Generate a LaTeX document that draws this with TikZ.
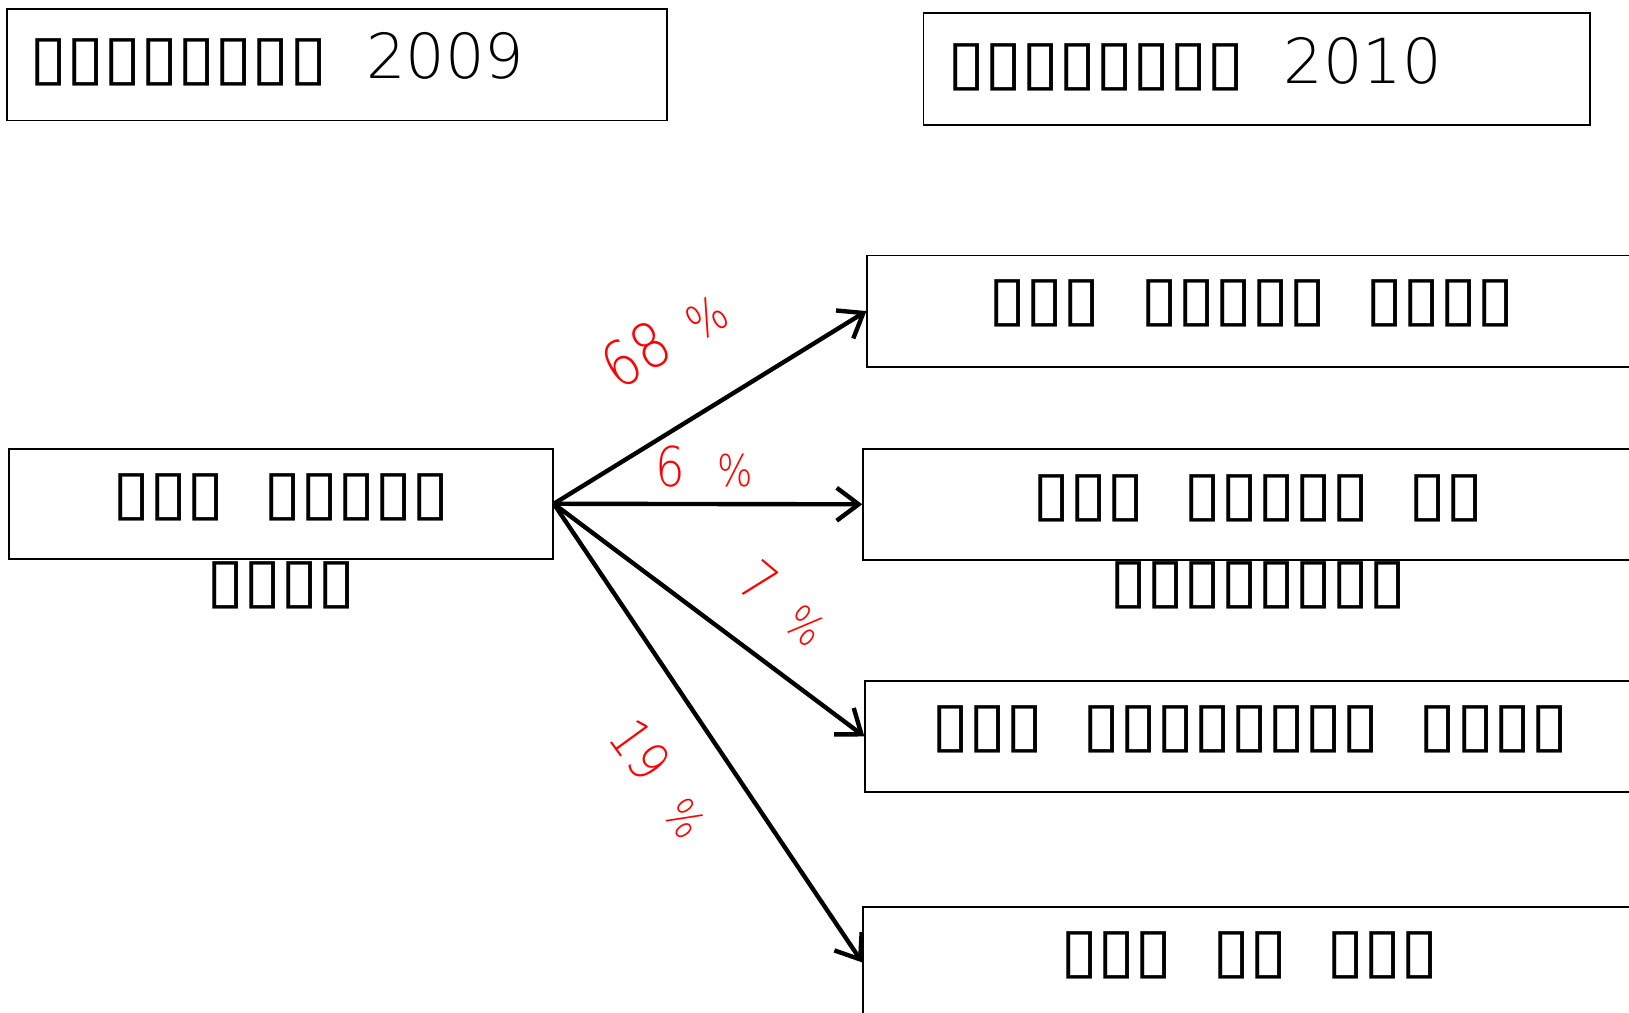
\documentclass[tikz,border=0pt]{standalone}
\usepackage{fontspec}
\setmainfont{DejaVu Sans}
\newfontfamily\tofufont{DejaVu Sans Bold}[FakeStretch=1.12, WordSpace=1.7, LetterSpace=-2]
\newfontfamily\thinfont{DejaVu Sans ExtraLight}[FakeStretch=0.85]
\newfontfamily\yearfont{DejaVu Sans ExtraLight}
\usetikzlibrary{arrows.meta}
\usetikzlibrary{calc}

\begin{document}
\begin{tikzpicture}[x=0.01cm, y=-0.01cm,
    >={Straight Barb[length=6pt, width=9pt]},
    frame/.style={draw, line width=0.5pt, inner sep=0pt, anchor=north west},
    box text/.style={font=\tofufont\fontsize{17pt}{24pt}\selectfont, align=center, inner sep=0pt},
    flow line/.style={line width=1.2pt, ->},
    share/.style={color=red, font=\thinfont, inner sep=0pt},
    ]

\useasboundingbox (0,0) rectangle (1568,975);

%% draw frames
\node[frame, minimum width=6.35cm, minimum height=1.07cm] (y09) at (6,8) {};
\node[frame, minimum width=6.41cm, minimum height=1.07cm] (y10) at (888,12) {};
\node[frame, minimum width=5.23cm, minimum height=1.06cm] (src) at (8,431) {};
\node[frame, minimum width=7.40cm, minimum height=1.07cm] (d1) at (834,245) {};
\node[frame, minimum width=7.60cm, minimum height=1.07cm] (d2) at (830,431) {};
\node[frame, minimum width=7.40cm, minimum height=1.06cm] (d3) at (832,655) {};
\node[frame, minimum width=7.44cm, minimum height=1.07cm] (d4) at (830,872) {};

%% frame texts
\node[box text, anchor=west] (t09) at ($(y09.west)+(22,-5)$) {▯▯▯▯▯▯▯▯ {\yearfont 2009}};
\node[box text, anchor=west] (t10) at ($(y10.west)+(23,-5)$) {▯▯▯▯▯▯▯▯ {\yearfont 2010}};
\node[box text, anchor=base] (tsrc) at ($(src.center)+(0,94)$) {▯▯▯ ▯▯▯▯▯\\▯▯▯▯};
\node[box text] (td1) at ($(d1.center)+(0,-7)$) {▯▯▯ ▯▯▯▯▯ ▯▯▯▯};
\node[box text, anchor=base] (td2) at ($(d2.center)+(0,94)$) {▯▯▯ ▯▯▯▯▯ ▯▯\\▯▯▯▯▯▯▯▯};
\node[box text] (td3) at ($(d3.center)+(0,-7)$) {▯▯▯ ▯▯▯▯▯▯▯▯ ▯▯▯▯};
\node[box text] (td4) at ($(d4.center)+(0,-7)$) {▯▯▯ ▯▯ ▯▯▯};

%% draw arrows
\draw[flow line] (src.east) -- (d1.west);
\draw[flow line] (src.east) -- (d2.west);
\draw[flow line] (src.east) -- (d3.west);
\draw[flow line] (src.east) -- (d4.west);

%% label shares
\node[share, rotate=31] (p1) at (639,325) {{\fontsize{17}{20}\selectfont 68}\hspace{7.5pt}{\fontsize{13}{16}\selectfont\%}};
\node[share] (p2) at (678,449) {{\fontsize{15}{18}\selectfont 6}\hspace{8.7pt}{\fontsize{12}{14}\selectfont\%}};
\node[share, rotate=-40] (p3) at (755,581) {{\fontsize{15}{18}\selectfont 7}\hspace{8.5pt}{\fontsize{12}{14}\selectfont\%}};
\node[share, rotate=-54] (p4) at (636,749) {{\fontsize{15}{18}\selectfont 19}\hspace{9.2pt}{\fontsize{12}{14}\selectfont\%}};

\end{tikzpicture}
\end{document}
